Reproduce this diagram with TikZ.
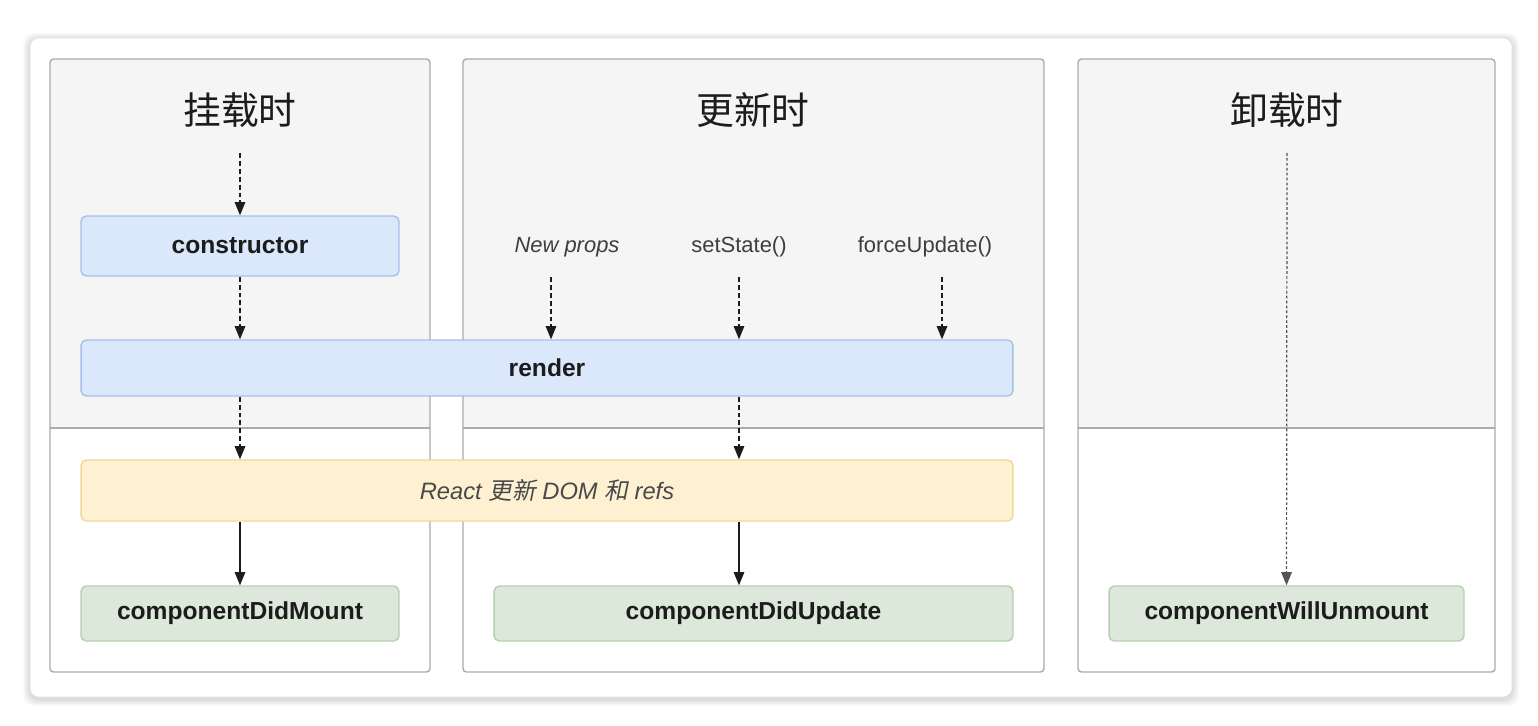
\documentclass[tikz,border=0pt]{standalone}
\usepackage{fontspec}
\setmainfont{Liberation Sans}
\newfontfamily\cjk{Noto Sans CJK SC}
\newfontfamily\cjkit[FakeSlant=0.2]{Noto Sans CJK SC}
\usepackage{xcolor}
\usetikzlibrary{arrows.meta}
\definecolor{phasebg}{HTML}{F5F5F5}
\definecolor{phaseline}{HTML}{ABABAB}
\definecolor{cardline}{HTML}{E2E2E2}
\definecolor{txt}{HTML}{1C1C1C}
\definecolor{blufill}{HTML}{DBE8FC}
\definecolor{bluline}{HTML}{A6C0EC}
\definecolor{yelfill}{HTML}{FDF1D2}
\definecolor{yelline}{HTML}{F0D69A}
\definecolor{grnfill}{HTML}{DCE8DA}
\definecolor{grnline}{HTML}{B5CFB0}

\begin{document}
\begin{tikzpicture}[x=0.02cm, y=-0.02cm,
		phase/.style={draw=phaseline, line width=0.8pt, rounded corners=2pt},
		stage/.style={line width=0.8pt, rounded corners=3pt, inner sep=0pt, font=\fontsize{14}{16}\selectfont\bfseries, text=txt},
		blu/.style={stage, fill=blufill, draw=bluline},
		yel/.style={stage, fill=yelfill, draw=yelline, font=\fontsize{13.5}{16}\selectfont\itshape, text=txt!80},
		grn/.style={stage, fill=grnfill, draw=grnline},
		title/.style={font=\cjk\fontsize{21.5}{26}\selectfont, text=txt},
		trigger/.style={font=\fontsize{12.5}{15}\selectfont, text=txt!85},
		dasharrow/.style={draw=txt, line width=0.7pt, dash pattern=on 2.8pt off 1.7pt, -{Triangle[width=6pt,length=7.5pt]}},
		solidarrow/.style={draw=txt, line width=0.7pt, -{Triangle[width=6pt,length=7.5pt]}},
		dotarrow/.style={draw=txt!75, line width=0.7pt, dash pattern=on 1.6pt off 1.2pt, -{Triangle[width=6pt,length=7.5pt]}}]
	\useasboundingbox (0,0) rectangle (1538,726);
	\fill[white] (0,0) rectangle (1538,726);
	\foreach \i in {1,...,7}
		\fill[black, opacity=0.02, rounded corners=6pt] ({30-\i},{38-\i+2}) rectangle ({1512+\i},{697+\i+2});
	\draw[cardline, fill=white, rounded corners=5pt] (30,38) rectangle (1512,697);
	\foreach \xa/\xb in {50/430, 463/1044, 1078/1495} {
		\begin{scope}
			\clip[rounded corners=2pt] (\xa,59) rectangle (\xb,672);
			\fill[white] (\xa,59) rectangle (\xb,672);
			\fill[phasebg] (\xa,59) rectangle (\xb,428);
		\end{scope}
		\draw[phase] (\xa,59) rectangle (\xb,672);
		\draw[phaseline, line width=0.8pt] (\xa,428) -- (\xb,428);
	}
	\node[title] (mount) at (240,110) {挂载时};
	\node[title] (update) at (753,110) {更新时};
	\node[title] (unmount) at (1287,110) {卸载时};
	\node[trigger] (props) at (567,247) {\itshape New props};
	\node[trigger] (state) at (739,247) {setState()};
	\node[trigger] (force) at (925,247) {forceUpdate()};
	\node[blu, minimum width=6.36cm, minimum height=1.2cm] (ctor) at (240,246) {constructor};
	\node[blu, minimum width=18.64cm, minimum height=1.12cm] (render) at (547,368) {render};
	\node[yel, minimum width=18.64cm, minimum height=1.22cm] (react) at (547,490.5) {React {\cjkit 更新} DOM {\cjkit 和} refs};
	\node[grn, minimum width=6.36cm, minimum height=1.1cm] (didmount) at (240,613.5) {componentDidMount};
	\node[grn, minimum width=10.38cm, minimum height=1.1cm] (didupdate) at (753.5,613.5) {componentDidUpdate};
	\node[grn, minimum width=7.1cm, minimum height=1.1cm] (willunmount) at (1286.5,613.5) {componentWillUnmount};
	\coordinate (mountin) at (240,153);
	\coordinate (unmountin) at (1287,153);
	\coordinate (propsin) at (551,277);
	\coordinate (statein) at (739,277);
	\coordinate (forcein) at (942,277);
	\draw[dasharrow] (mountin) -- (ctor);
	\draw[dasharrow] (ctor.south) -- (ctor.south |- render.north);
	\draw[dasharrow] (render.south -| ctor) -- (react.north -| ctor);
	\draw[solidarrow] (react.south -| didmount) -- (didmount);
	\foreach \c in {propsin, statein, forcein}
		\draw[dasharrow] (\c) -- (\c |- render.north);
	\draw[dasharrow] (render.south -| statein) -- (react.north -| statein);
	\draw[solidarrow] (react.south -| statein) -- (didupdate.north -| statein);
	\draw[dotarrow] (unmountin) -- (willunmount);
\end{tikzpicture}
\end{document}
